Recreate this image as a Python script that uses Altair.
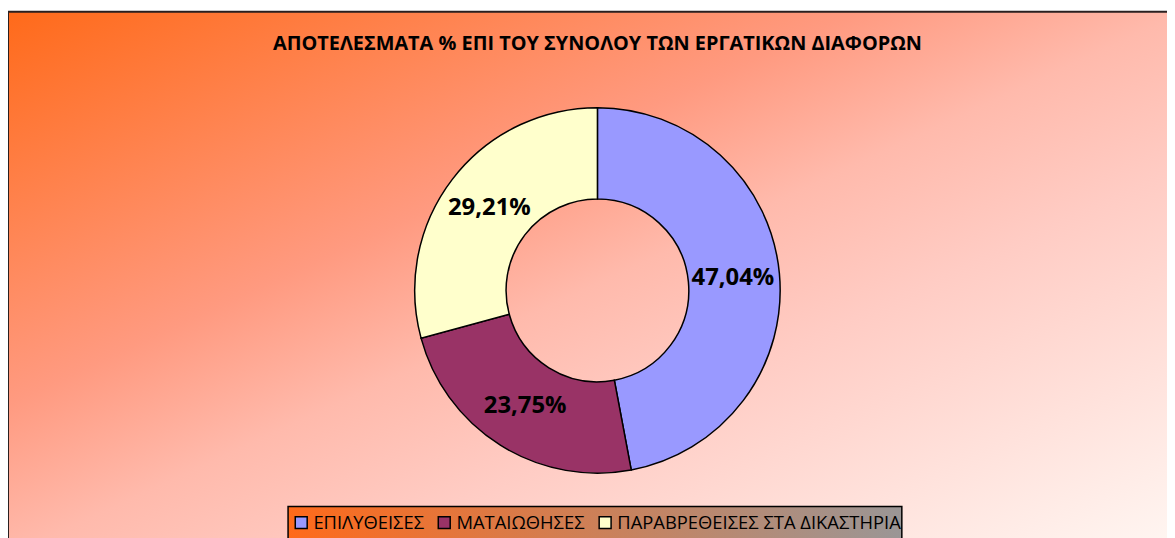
import altair as alt
import pandas as pd

categories = ["ΕΠΙΛΥΘΕΙΣΕΣ", "ΜΑΤΑΙΩΘΗΣΕΣ", "ΠΑΡΑΒΡΕΘΕΙΣΕΣ ΣΤΑ ΔΙΚΑΣΤΗΡΙΑ"]
values = [47.04, 23.75, 29.21]
labels = ["47,04%", "23,75%", "29,21%"]
colors = ["#9999FF", "#993366", "#FFFFCC"]
title_text = "ΑΠΟΤΕΛΕΣΜΑΤΑ % ΕΠΙ ΤΟΥ ΣΥΝΟΛΟΥ ΤΩΝ ΕΡΓΑΤΙΚΩΝ ΔΙΑΦΟΡΩΝ"

df = pd.DataFrame({
    "cat": categories,
    "value": values,
    "label": labels,
    "order": list(range(len(categories))),
})

W, H = 1167, 530
CX, CY = 593.5, 282.5
FONT = "Open Sans"

bg_gradient = {
    "gradient": "linear", "x1": 0, "y1": 0, "x2": 1, "y2": 1,
    "stops": [
        {"offset": 0.0, "color": "#FF6A1A"},
        {"offset": 0.36, "color": "#FF9A80"},
        {"offset": 0.5, "color": "#FFBAAC"},
        {"offset": 0.64, "color": "#FFCCC4"},
        {"offset": 1.0, "color": "#FFF8F4"},
    ],
}
legend_gradient = {
    "gradient": "linear", "x1": 0, "y1": 0, "x2": 1, "y2": 0,
    "stops": [
        {"offset": 0.0, "color": "#FF6A1A"},
        {"offset": 1.0, "color": "#9A9696"},
    ],
}

base_one = alt.Chart(pd.DataFrame({"a": [0]}))

bg = base_one.mark_rect(fill=bg_gradient, stroke="#2A2020", strokeWidth=2).encode(
    x=alt.value(0), x2=alt.value(W + 20), y=alt.value(2), y2=alt.value(H + 20)
)

legend_box = base_one.mark_rect(fill=legend_gradient, stroke="#000000", strokeWidth=1.5).encode(
    x=alt.value(282), x2=alt.value(900), y=alt.value(500), y2=alt.value(H + 20)
)

title = base_one.mark_text(
    font=FONT, fontSize=20, fontWeight="bold", color="#000000", align="center", baseline="middle"
).encode(x=alt.value(CX), y=alt.value(34), text=alt.value(title_text))

base = alt.Chart(df)

arcs = base.mark_arc(innerRadius=92, outerRadius=184, stroke="#000000", strokeWidth=1.5).encode(
    theta=alt.Theta("value:Q", stack=True),
    order=alt.Order("order:Q"),
    color=alt.Color(
        "cat:N",
        scale=alt.Scale(domain=categories, range=colors),
        legend=alt.Legend(
            title=None, orient="none", direction="horizontal", legendX=286, legendY=507,
            symbolType="square", symbolSize=144, symbolStrokeColor="#000000", symbolStrokeWidth=1.5,
            symbolOpacity=1, labelFont=FONT, labelFontSize=18.5, labelColor="#000000",
            labelOffset=3, columnPadding=11, padding=0, labelLimit=500,
        ),
    ),
    x=alt.value(CX), y=alt.value(CY),
)

texts = base.mark_text(
    radius=137, font=FONT, fontSize=24, fontWeight="bold", color="#000000",
    align="center", baseline="middle",
).encode(
    theta=alt.Theta("value:Q", stack=True),
    order=alt.Order("order:Q"),
    text="label:N",
    x=alt.value(CX), y=alt.value(CY),
)

chart = alt.layer(bg, legend_box, title, arcs, texts).properties(
    width=W, height=H, padding=0, autosize=alt.AutoSizeParams(type="none"), background="#FFFFFF"
).configure_view(stroke=None)

chart.save("out.html", embed_options={"renderer": "svg", "actions": False})
